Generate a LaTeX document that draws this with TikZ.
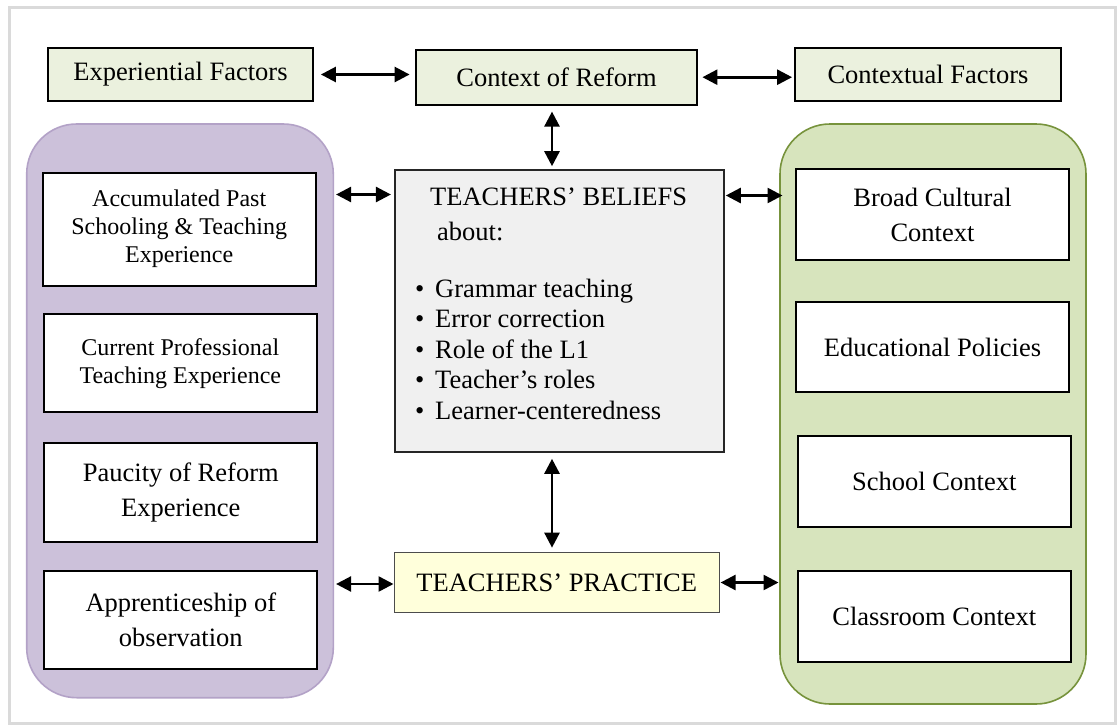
\documentclass[tikz,border=0pt]{standalone}
\usepackage{fontspec}
\setmainfont{Liberation Serif}
\usetikzlibrary{arrows.meta}
\definecolor{topfill}{HTML}{EBF1DE}
\definecolor{purfill}{HTML}{CCC1DA}
\definecolor{purline}{HTML}{B3A2C7}
\definecolor{grnfill}{HTML}{D7E4BD}
\definecolor{grnline}{HTML}{77933C}
\definecolor{belfill}{HTML}{F0F0F0}
\definecolor{prfill}{HTML}{FFFFDB}
\definecolor{framegray}{HTML}{DADADA}
\begin{document}
\begin{tikzpicture}[x=1pt,y=-1pt,
  bigfont/.style={font=\fontsize{26.5}{35}\selectfont},
  smallfont/.style={font=\fontsize{24}{28}\selectfont},
  topbox/.style={draw=black, line width=1.8pt, fill=topfill, inner sep=0pt, bigfont},
  whitebox/.style={draw=black, line width=1.8pt, fill=white, inner sep=0pt, align=center},
  groupbox/.style={rounded corners=50pt, inner sep=0pt, line width=1.6pt},
  arr/.style={{Triangle[length=15pt,width=15pt]}-{Triangle[length=15pt,width=15pt]}, line width=2.6pt},
  txt/.style={anchor=base west, inner sep=0pt, bigfont},
]
\useasboundingbox (0,0) rectangle (1117,726);
\fill[white] (0,0) rectangle (1117,726);
\draw[framegray, line width=3pt] (9.5,7.5) rectangle (1115,723.5);

% group panels
\node[groupbox, draw=purline, fill=purfill, minimum width=306.6pt, minimum height=573.7pt] (left) at (180,410.85) {};
\node[groupbox, draw=grnline, fill=grnfill, minimum width=306pt, minimum height=580pt] (right) at (933,414) {};

% top row
\node[topbox, minimum width=265pt, minimum height=53pt] (exp) at (180.5,74.5) {Experiential Factors};
\node[topbox, minimum width=281pt, minimum height=55pt] (ctx) at (556.5,77.2) {Context of Reform};
\node[topbox, minimum width=266pt, minimum height=53pt] (cxf) at (928,74.5) {Contextual Factors};

% left boxes
\node[whitebox, smallfont, minimum width=273pt, minimum height=113pt] (l1) at (179.2,229.2) {Accumulated Past\\Schooling \& Teaching\\Experience};
\node[whitebox, smallfont, minimum width=272.7pt, minimum height=98.3pt] (l2) at (180.3,363.2) {Current Professional\\Teaching Experience};
\node[whitebox, bigfont, minimum width=273pt, minimum height=99pt] (l3) at (180.8,492.2) {Paucity of Reform\\Experience};
\node[whitebox, bigfont, minimum width=273pt, minimum height=98.6pt] (l4) at (180.8,620) {Apprenticeship of\\observation};

% right boxes
\node[whitebox, bigfont, minimum width=273pt, minimum height=90.7pt] (r1) at (932.5,214.7) {Broad Cultural\\Context};
\node[whitebox, bigfont, minimum width=273pt, minimum height=90.6pt] (r2) at (932.5,347) {Educational Policies};
\node[whitebox, bigfont, minimum width=273.3pt, minimum height=91.6pt] (r3) at (934.3,481.5) {School Context};
\node[whitebox, bigfont, minimum width=273.3pt, minimum height=91pt] (r4) at (934.3,616.2) {Classroom Context};

% beliefs
\node[draw=black!85, line width=1.6pt, fill=belfill, inner sep=0pt, minimum width=329pt, minimum height=282pt] (beliefs) at (559.5,311) {};
\node[txt] (bt1) at (430,205) {TEACHERS’ BELIEFS};
\node[txt] (bt2) at (437,240) {about:};
\node[txt] (bi1) at (415,297) {\makebox[20pt][l]{•}Grammar teaching};
\node[txt] (bi2) at (415,327.5) {\makebox[20pt][l]{•}Error correction};
\node[txt] (bi3) at (415,358) {\makebox[20pt][l]{•}Role of the L1};
\node[txt] (bi4) at (415,388) {\makebox[20pt][l]{•}Teacher’s roles};
\node[txt] (bi5) at (415,419) {\makebox[20pt][l]{•}Learner-centeredness};

% practice
\node[draw=black!70, line width=1.1pt, fill=prfill, inner sep=0pt, bigfont, minimum width=324.7pt, minimum height=59.6pt] (practice) at (556.7,582.5) {TEACHERS’ PRACTICE};

% coordinates
\coordinate (vx) at (552,0);
\coordinate (ya) at (0,194.5);
\coordinate (yb) at (0,195.5);
\coordinate (yc) at (0,584);

% arrows
\draw[arr, shorten <=7pt, shorten >=5.5pt] (exp.east) -- (exp.east -| ctx.west);
\draw[arr, shorten <=4.5pt, shorten >=2pt] (ctx.east) -- (ctx.east -| cxf.west);
\draw[arr, shorten <=6pt, shorten >=3pt] (vx |- ctx.south) -- (vx |- beliefs.north);
\draw[arr, shorten <=6pt, shorten >=4.5pt] (vx |- beliefs.south) -- (vx |- practice.north);
\draw[arr, shorten <=2pt, shorten >=3.3pt] (left.east |- ya) -- (beliefs.west |- ya);
\draw[arr, shorten <=1pt, shorten >=-3.3pt] (beliefs.east |- yb) -- (right.west |- yb);
\draw[arr, shorten <=2pt, shorten >=0.3pt] (left.east |- yc) -- (practice.west |- yc);
\draw[arr, shorten <=1pt, shorten >=0.7pt] (practice.east) -- (practice.east -| right.west);
\end{tikzpicture}
\end{document}
